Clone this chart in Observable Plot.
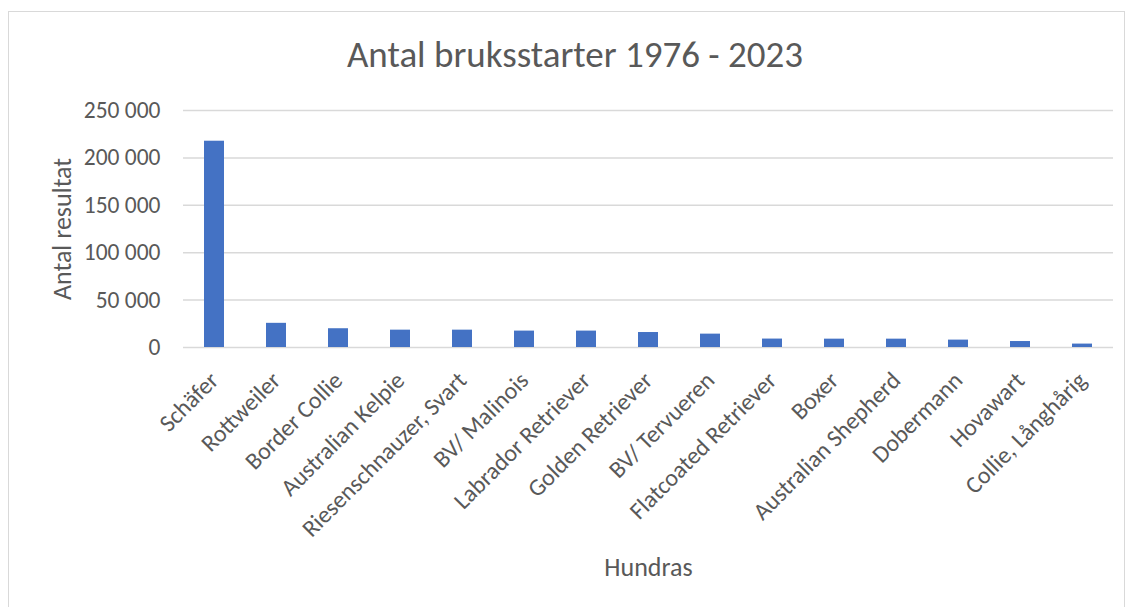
<!DOCTYPE html>
<html>
<head>
<meta charset="utf-8">
<script src="https://cdn.jsdelivr.net/npm/d3@7"></script>
<script src="https://cdn.jsdelivr.net/npm/@observablehq/plot@0.6"></script>
<style>
  html, body { margin: 0; padding: 0; background: #fff; }
  body { width: 1132px; height: 607px; position: relative; overflow: hidden; font-family: Carlito, "Open Sans", sans-serif; }
  #frame { position: absolute; left: 8px; top: 11px; width: 1117px; height: 600px; border: 1.5px solid #d9d9d9; box-sizing: border-box; }
  #title { position: absolute; left: 0; top: 0; width: 1132px; height: 90px; text-align: center; color: #595959; font-size: 37px; line-height: 1; padding-top: 36px; padding-left: 18px; box-sizing: border-box; }
  #chart { position: absolute; left: 0; top: 90px; }
</style>
</head>
<body>
<div id="frame"></div>
<div id="title">Antal bruksstarter 1976 - 2023</div>
<div id="chart"></div>
<script>
const breeds = ["Schäfer", "Rottweiler", "Border Collie", "Australian Kelpie", "Riesenschnauzer, Svart", "BV/ Malinois", "Labrador Retriever", "Golden Retriever", "BV/ Tervueren", "Flatcoated Retriever", "Boxer", "Australian Shepherd", "Dobermann", "Hovawart", "Collie, Långhårig"];
const results = [217600, 25500, 19800, 18300, 18300, 17300, 17300, 15800, 14100, 8900, 8800, 8800, 7800, 6300, 3600];
const yTicks = [0, 50000, 100000, 150000, 200000, 250000];
const yLabel = "Antal resultat";
const xLabel = "Hundras";

const data = breeds.map((b, i) => ({breed: b, value: results[i]}));
const fmt = d => d3.format(",")(d).replace(/,/g, " ");
const font = 'Carlito, "Open Sans", sans-serif';

const chart = Plot.plot({
  width: 1132,
  height: 517,
  marginTop: 20,
  marginBottom: 260,
  marginLeft: 183,
  marginRight: 19,
  style: {fontFamily: font, color: "#595959", background: "transparent", overflow: "visible"},
  x: {domain: breeds, paddingInner: 0.68, paddingOuter: 0.34, label: null},
  y: {domain: [0, 250000], label: null},
  marks: [
    Plot.gridY(yTicks, {stroke: "#d9d9d9", strokeOpacity: 1, strokeWidth: 1.5}),
    Plot.axisY(yTicks, {tickSize: 0, tickPadding: 23, tickFormat: fmt, fontSize: 23.5, fill: "#595959", label: null}),
    Plot.axisX({tickSize: 0, tickPadding: 29, tickRotate: -45, fontSize: 24, fill: "#595959", label: null}),
    Plot.barY(data, {x: "breed", y: "value", fill: "#4472C4"}),
    Plot.text([yLabel], {frameAnchor: "left", dx: -121, rotate: -90, fontSize: 26, fill: "#595959", textAnchor: "middle"}),
    Plot.text([xLabel], {frameAnchor: "bottom", dy: 228, fontSize: 26, fill: "#595959", textAnchor: "middle"})
  ]
});
document.getElementById("chart").appendChild(chart);
</script>
</body>
</html>
